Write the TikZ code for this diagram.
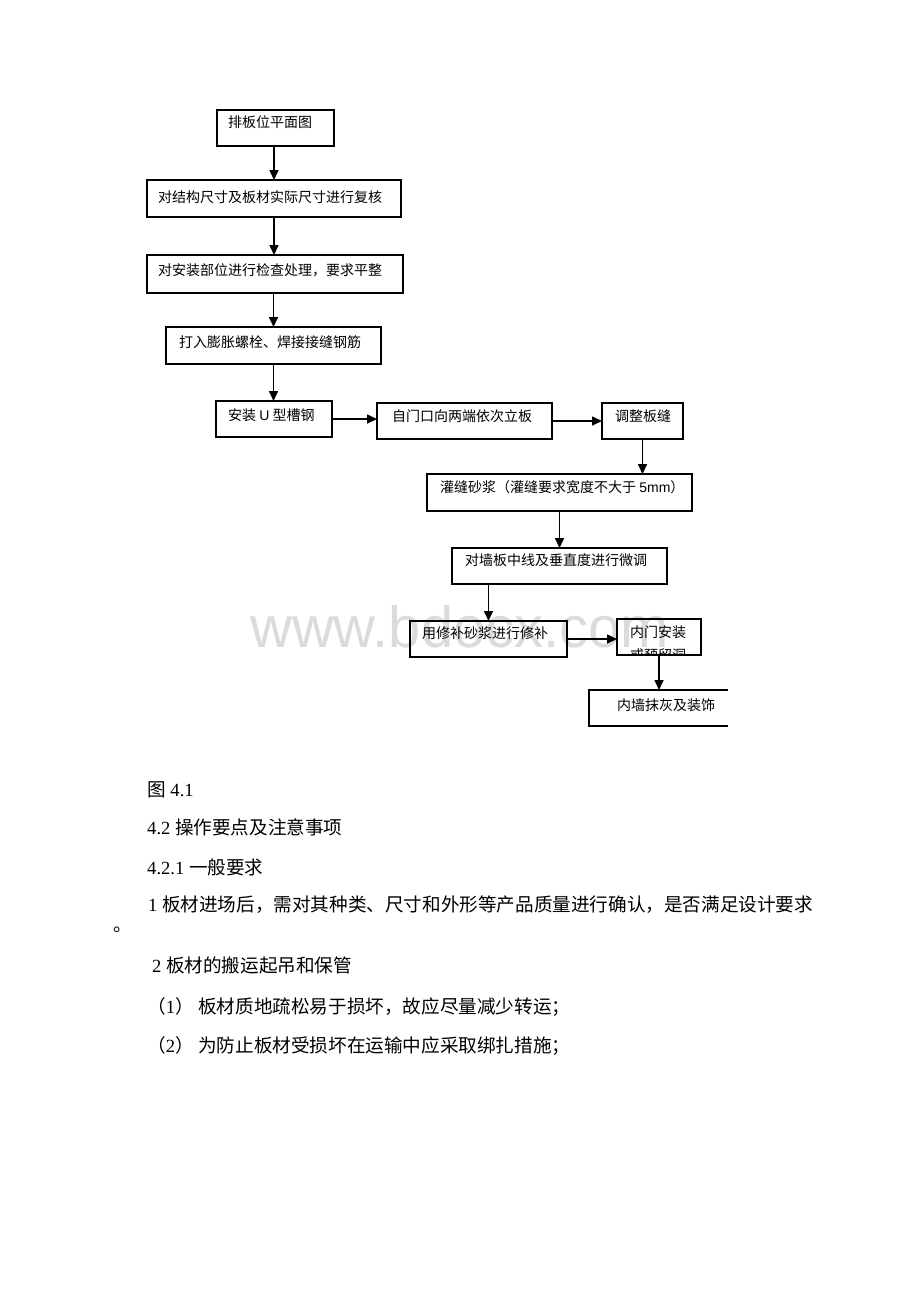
\documentclass[tikz,border=0pt]{standalone}
\usepackage{fontspec}
\setmainfont{Noto Sans CJK SC}
\newfontfamily\lat{Liberation Serif}
\newfontfamily\ls{Liberation Sans}
\usetikzlibrary{arrows.meta,fit}
\begin{document}
\begin{tikzpicture}[x=1pt,y=-1pt,
  box/.style={draw=black, line width=1.2pt, inner sep=0pt, outer sep=0pt},
  lbl/.style={inner sep=0pt, anchor=west, font=\fontsize{14}{17}\selectfont},
  body/.style={inner sep=0pt, anchor=west, font=\fontsize{18.6}{22}\selectfont},
  arr/.style={draw=black, line width=1.6pt, -{Triangle[length=10pt,width=9pt]}},
  wmark/.style={inner sep=0pt, anchor=base west, text=black!14, font=\ls\fontsize{58}{60}\selectfont}]
\useasboundingbox[fill=white] (0,0) rectangle (920,1302);

% watermark
\node[wmark] (wm) at (250,647) {www.bdocx.com};

% boxes
\node[box, fit={(217,110) (334,146)}] (b1) {};
\node[box, fit={(147,180) (401,217)}] (b2) {};
\node[box, fit={(147,255) (403,293)}] (b3) {};
\node[box, fit={(166,327) (381,364)}] (b4) {};
\node[box, fit={(216,401) (332,437)}] (b5) {};
\node[box, fit={(377,403) (552,439)}] (b6) {};
\node[box, fit={(602,403) (683,439)}] (b7) {};
\node[box, fit={(427,474) (692,511)}] (b8) {};
\node[box, fit={(452,548) (667,584)}] (b9) {};
\node[box, fit={(410,621) (567,657)}] (b10) {};
\node[box, fit={(617,619) (701,655)}] (b11) {};
\node[inner sep=0pt, outer sep=0pt, fit={(589,690) (728,726)}] (b12) {};
\draw[line width=1.2pt] (b12.north east) -- (b12.north west) -- (b12.south west) -- (b12.south east);

% box texts
\node[lbl] (t1) at (228,122) {排板位平面图};
\node[lbl] (t2) at (158,197) {对结构尺寸及板材实际尺寸进行复核};
\node[lbl] (t3) at (158,270) {对安装部位进行检查处理，要求平整};
\node[lbl] (t4) at (179,342) {打入膨胀螺栓、焊接接缝钢筋};
\node[lbl] (t5) at (228,415) {安装 {\ls U} 型槽钢};
\node[lbl] (t6) at (392,416) {自门口向两端依次立板};
\node[lbl] (t7) at (615,416) {调整板缝};
\node[lbl] (t8) at (440,487) {灌缝砂浆（灌缝要求宽度不大于 {\ls 5mm}）};
\node[lbl] (t9) at (465,560) {对墙板中线及垂直度进行微调};
\node[lbl] (t10) at (422,633) {用修补砂浆进行修补};
\node[lbl] (t11) at (630,632) {内门安装};
\begin{scope}
  \clip (617,619) rectangle (701,655.5);
  \node[lbl] (t11b) at (630,655) {或预留洞};
\end{scope}
\node[lbl] (t12) at (617,705) {内墙抹灰及装饰};

% connectors
\draw[arr] (b2.north |- b1.south) -- (b2.north);
\draw[arr] (b2.south) -- (b2.south |- b3.north);
\draw[arr] (b4.north |- b3.south) -- (b4.north);
\draw[arr] (b4.south) -- (b4.south |- b5.north);
\draw[arr] (b5.east) -- (b5.east -| b6.west);
\draw[arr] (b6.east) -- (b6.east -| b7.west);
\draw[arr] (b7.south) -- (b7.south |- b8.north);
\draw[arr] (b8.south) -- (b8.south |- b9.north);
\draw[arr] (b10.north |- b9.south) -- (b10.north);
\draw[arr] (b10.east) -- (b10.east -| b11.west);
\draw[arr] (b11.south) -- (b11.south |- b12.north);

% body text
\node[body] (p1) at (147,790) {图{\lat\ 4.1}};
\node[body] (p2) at (147,827) {{\lat 4.2 }操作要点及注意事项};
\node[body] (p3) at (147,867) {{\lat 4.2.1 }一般要求};
\node[body] (p4) at (148,905) {{\lat 1 }板材进场后，需对其种类、尺寸和外形等产品质量进行确认，是否满足设计要求};
\node[body] (p5) at (113,930) {。};
\node[body] (p6) at (152,965) {{\lat 2 }板材的搬运起吊和保管};
\node[body] (p7) at (147,1007) {（{\lat 1}）{\lat\ }板材质地疏松易于损坏，故应尽量减少转运；};
\node[body] (p8) at (147,1046) {（{\lat 2}）{\lat\ }为防止板材受损坏在运输中应采取绑扎措施；};
\end{tikzpicture}
\end{document}
